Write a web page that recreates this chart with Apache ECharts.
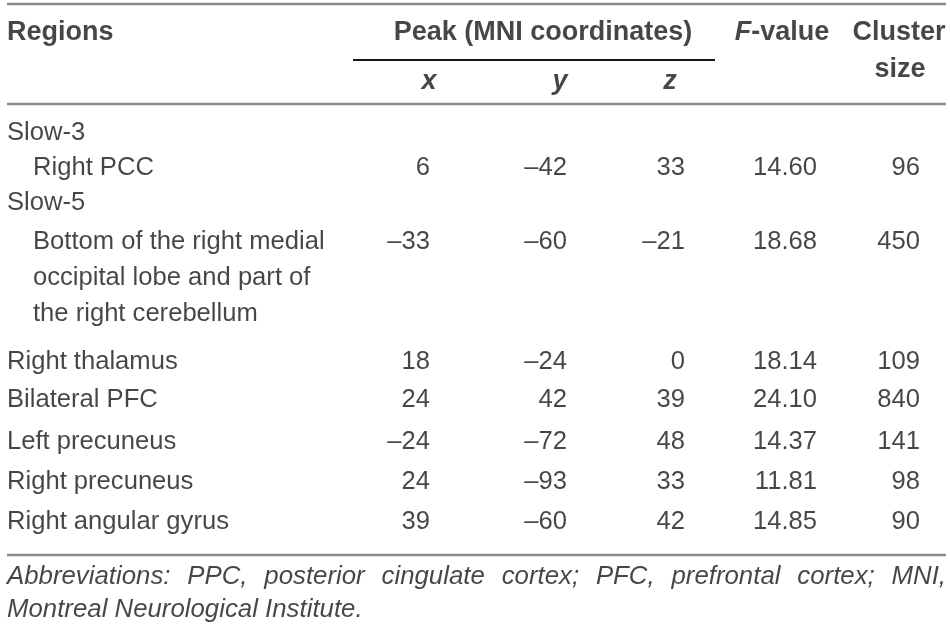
<!DOCTYPE html>
<html lang="en">
<head>
    <meta charset="UTF-8">
    <title>Regions table</title>
    <script src="https://cdn.jsdelivr.net/npm/echarts@6/dist/echarts.min.js"></script>
    <style>html, body { margin: 0; padding: 0; background: #fff; }</style>
</head>
<body>
    <div id="main" style="width: 950px;height:637px;"></div>
    <script type="text/javascript">
        // table content
        var regions = ['Slow-3', 'Right PCC', 'Slow-5',
            'Bottom of the right medial\noccipital lobe and part of\nthe right cerebellum',
            'Right thalamus', 'Bilateral PFC', 'Left precuneus', 'Right precuneus', 'Right angular gyrus'];
        var indentLevel = [0, 1, 0, 1, 0, 0, 0, 0, 0];
        var peakX = [null, 6, null, -33, 18, 24, -24, 24, 39];
        var peakY = [null, -42, null, -60, -24, 42, -72, -93, -60];
        var peakZ = [null, 33, null, -21, 0, 39, 48, 33, 42];
        var fValue = [null, 14.60, null, 18.68, 18.14, 24.10, 14.37, 11.81, 14.85];
        var clusterSize = [null, 96, null, 450, 109, 840, 141, 98, 90];
        var footnote = ['Abbreviations: PPC, posterior cingulate cortex; PFC, prefrontal cortex; MNI,',
            'Montreal Neurological Institute.'];

        // layout (pixel units of the hidden axes)
        var W = 950, H = 637;
        var ruleLeft = 7, ruleRight = 946;
        var indentX = [7, 33];
        var colRight = [430, 567, 685, 817, 920];
        var rowCenter = [133, 168, 203, 242, 362, 400, 442, 482, 522];
        var lineH = 36;
        var fontFam = '"Liberation Sans", Arial, Helvetica, sans-serif';
        var ink = '#1a1718';
        var fs = 25.6;      // body
        var fsHead = 27;    // bold header
        var fsNote = 25.8;  // footnote

        var fmt = function (v) {
            if (v === null) return '';
            return v < 0 ? '\u2013' + Math.abs(v) : String(v);
        };

        // body cells
        var leftCells = [], rightCells = [];
        for (var i = 0; i < regions.length; i++) {
            var rowTop = rowCenter[i] - lineH / 2;
            leftCells.push({value: [indentX[indentLevel[i]], rowTop], t: regions[i]});
            var cols = [fmt(peakX[i]), fmt(peakY[i]), fmt(peakZ[i]),
                fValue[i] === null ? '' : fValue[i].toFixed(2), fmt(clusterSize[i])];
            for (var c = 0; c < cols.length; c++) {
                if (cols[c] !== '') rightCells.push({value: [colRight[c], rowTop], t: cols[c]});
            }
        }

        // header cells (centered)
        var headCells = [
            {value: [543, 33], t: 'Peak (MNI coordinates)'},
            {value: [429, 82], t: '{bi|x}'},
            {value: [560, 82], t: '{bi|y}'},
            {value: [670, 82], t: '{bi|z}'},
            {value: [782, 33], t: '{bi|F}-value'},
            {value: [899, 33], t: 'Cluster'},
            {value: [900, 70], t: 'size'}
        ];

        // footnote, first line justified
        var ctx = document.createElement('canvas').getContext('2d');
        ctx.font = 'italic ' + fsNote + 'px ' + fontFam;
        var words = footnote[0].split(' ');
        var wsum = 0;
        words.forEach(function (w) { wsum += ctx.measureText(w).width; });
        var gap = (ruleRight - ruleLeft - wsum) / (words.length - 1);
        var noteCells = [];
        var xx = ruleLeft;
        words.forEach(function (w) {
            noteCells.push({value: [xx, 577], t: w});
            xx += ctx.measureText(w).width + gap;
        });
        noteCells.push({value: [ruleLeft, 610], t: footnote[1]});

        var textSeries = function (name, data, align, vAlign, extra) {
            var label = {
                show: true,
                position: 'inside',
                align: align,
                verticalAlign: vAlign,
                color: ink,
                fontFamily: fontFam,
                fontSize: fs,
                lineHeight: lineH,
                formatter: function (p) { return p.data.t; }
            };
            for (var k in extra) label[k] = extra[k];
            return {
                name: name,
                type: 'scatter',
                symbolSize: 0,
                silent: true,
                label: label,
                data: data
            };
        };

        // horizontal rules as plain line series
        var ruleSeries = function (x1, x2, y, color, width) {
            return {
                type: 'line',
                silent: true,
                symbol: 'none',
                lineStyle: {color: color, width: width},
                data: [[x1, y], [x2, y]]
            };
        };

        var myChart = echarts.init(document.getElementById('main'));
        var option = {
            backgroundColor: '#fff',
            animation: false,
            grid: {left: 0, right: 0, top: 0, bottom: 0},
            xAxis: {type: 'value', min: 0, max: W, show: false},
            yAxis: {type: 'value', min: 0, max: H, inverse: true, show: false},
            series: [
                textSeries('regions', leftCells, 'left', 'top', {}),
                textSeries('values', rightCells, 'right', 'top', {}),
                textSeries('header', headCells, 'center', 'middle', {
                    fontWeight: 'bold',
                    fontSize: fsHead,
                    rich: {
                        bi: {fontStyle: 'italic', fontWeight: 'bold', fontSize: fsHead, fontFamily: fontFam, color: ink}
                    }
                }),
                textSeries('headerLeft', [{value: [7, 33], t: 'Regions'}], 'left', 'middle', {
                    fontWeight: 'bold', fontSize: fsHead
                }),
                textSeries('footnote', noteCells, 'left', 'middle', {fontStyle: 'italic', fontSize: fsNote}),
                ruleSeries(ruleLeft, ruleRight, 4, '#8c8c8c', 2.5),
                ruleSeries(ruleLeft, ruleRight, 104, '#8c8c8c', 2.5),
                ruleSeries(ruleLeft, ruleRight, 555, '#8c8c8c', 2.5),
                ruleSeries(353, 715, 60, ink, 1.8)
            ]
        };
        myChart.setOption(option);
    </script>
</body>
</html>
